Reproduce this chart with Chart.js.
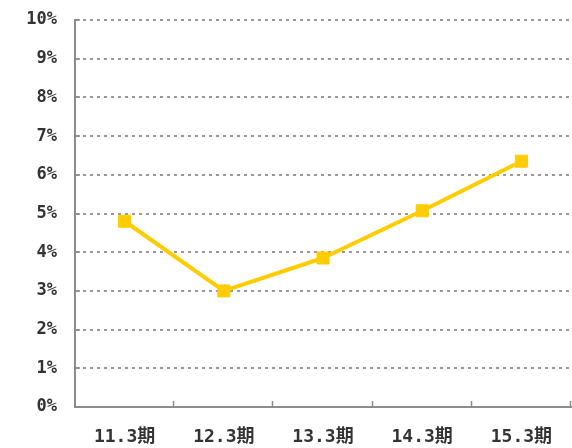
<!DOCTYPE html>
<html>
<head>
  <meta charset="utf-8">
  <title>Chart</title>
  <script src="https://cdn.jsdelivr.net/npm/chart.js"></script>
  <style>
    body { margin: 0; background: #fff; }
    canvas { display: block; }
  </style>
</head>
<body>
  <canvas id="chart" width="572" height="448"></canvas>

  <script>
    const periods = ['11.3期', '12.3期', '13.3期', '14.3期', '15.3期'];
    const rates = [4.8, 3.0, 3.85, 5.07, 6.35];
    const yTicks = [0, 1, 2, 3, 4, 5, 6, 7, 8, 9, 10];

    const axisColor = '#8c8c8c';
    const textColor = '#333';
    const labelFont = '"DejaVu Sans Mono", "Noto Sans CJK JP", monospace';

    // short ticks pointing into the plot, like the original
    const innerTicks = {
      id: 'innerTicks',
      afterDatasetsDraw(chart) {
        const { ctx, chartArea, scales: { x, y } } = chart;
        ctx.save();
        ctx.strokeStyle = axisColor;
        ctx.lineWidth = 1.5;
        ctx.beginPath();
        for (let i = 1; i <= periods.length; i++) {
          const px = i < periods.length
            ? (x.getPixelForValue(i - 1) + x.getPixelForValue(i)) / 2
            : chartArea.right;
          ctx.moveTo(Math.round(px) - 0.5, chartArea.bottom);
          ctx.lineTo(Math.round(px) - 0.5, chartArea.bottom - 6);
        }
        yTicks.slice(1).forEach(v => {
          const py = Math.round(y.getPixelForValue(v));
          ctx.moveTo(chartArea.left, py);
          ctx.lineTo(chartArea.left + 5, py);
        });
        ctx.stroke();
        ctx.restore();
      }
    };

    new Chart(document.getElementById('chart'), {
      type: 'line',
      data: {
        labels: periods,
        datasets: [{
          data: rates,
          borderColor: '#ffcc00',
          backgroundColor: '#ffcc00',
          borderWidth: 4,
          pointStyle: 'rect',
          pointRadius: 8.5,
          pointBorderWidth: 1,
          pointHoverRadius: 8.5,
          tension: 0,
          fill: false
        }]
      },
      options: {
        responsive: false,
        animation: false,
        layout: { autoPadding: false, padding: { top: 20, right: 1, left: 0, bottom: 0 } },
        plugins: { legend: { display: false }, tooltip: { enabled: false } },
        scales: {
          x: {
            offset: true,
            grid: { display: false },
            border: { display: true, color: axisColor, width: 2 },
            ticks: {
              color: textColor,
              padding: 12,
              font: { family: labelFont, size: 18, weight: 'bold' }
            },
            afterFit: s => {
              s.height = 41;
              s.paddingLeft = 0;
              s.paddingRight = 0;
            }
          },
          y: {
            min: 0,
            max: 10,
            afterBuildTicks: s => { s.ticks = yTicks.map(v => ({ value: v })); },
            grid: {
              color: '#999',
              lineWidth: 2,
              drawTicks: false
            },
            border: { display: true, color: axisColor, width: 2 },
            ticks: {
              color: textColor,
              padding: 18,
              font: { family: labelFont, size: 17, weight: 'bold' },
              callback: v => v + '%'
            },
            afterFit: s => {
              s.width = 75;
              s.paddingTop = 0;
              s.paddingBottom = 0;
            }
          }
        },
        elements: { line: { borderJoinStyle: 'round' } }
      },
      plugins: [innerTicks, {
        id: 'dashGrid',
        beforeDraw(chart) {
          chart.options.scales.y.grid.borderDash = [3, 4];
          chart.scales.y.options.border.dash = [3, 4];
        }
      }]
    });
  </script>
</body>
</html>
